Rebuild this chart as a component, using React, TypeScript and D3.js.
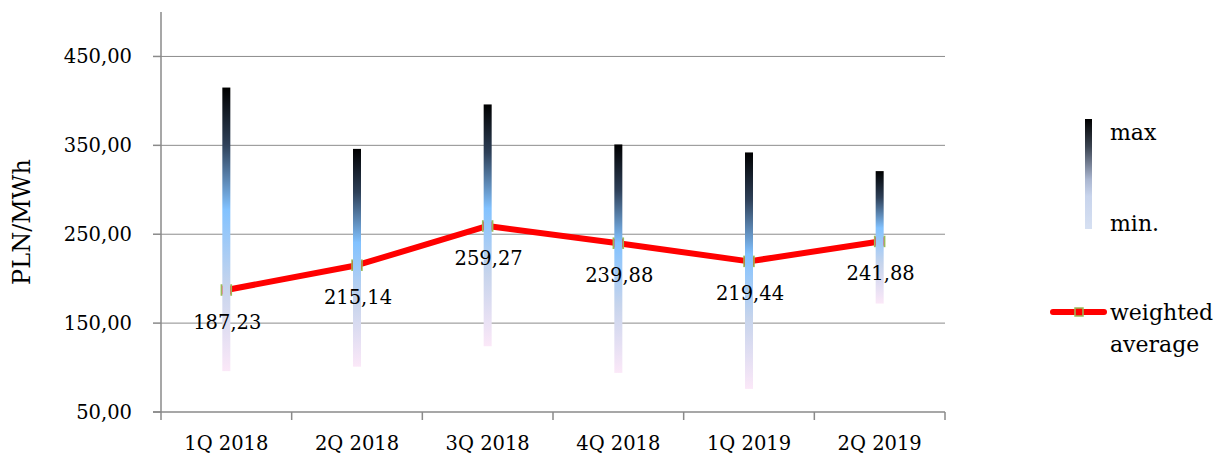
import React from 'react';
import * as d3 from 'd3';

const categories = ['1Q 2018', '2Q 2018', '3Q 2018', '4Q 2018', '1Q 2019', '2Q 2019'];
const maxValues = [415, 346, 396, 351, 342, 321];
const minValues = [96, 101, 124, 94, 76, 172];
const avgValues = [187.23, 215.14, 259.27, 239.88, 219.44, 241.88];
const yTicks = [50, 150, 250, 350, 450];

const W = 1217;
const H = 455;
const FONT = '"DejaVu Serif", serif';

const locale = d3.formatLocale({ decimal: ',', thousands: ' ', grouping: [3], currency: ['', ''] });
const fmt = locale.format('.2f');

export default function App() {
  const x = d3.scaleBand<string>().domain(categories).range([161, 945]).padding(0);
  const y = d3.scaleLinear().domain([50, 500]).range([412, 12]);
  const cx = (c: string) => (x(c) as number) + x.bandwidth() / 2;
  const line = d3
    .line<number>()
    .x((_, i) => cx(categories[i]))
    .y((d) => y(d));
  const gridColor = '#8c8c8c';
  const axisColor = '#8a8a8a';
  const barW = 8;

  return (
    <svg width={W} height={H} style={{ position: 'absolute', left: 0, top: 0, background: '#fff' }}>
      <defs>
        <linearGradient id="barGrad" x1="0" y1="0" x2="0" y2="1">
          <stop offset="0" stopColor="#000000" />
          <stop offset="0.2" stopColor="#2e4058" />
          <stop offset="0.43" stopColor="#82c2ff" />
          <stop offset="0.7" stopColor="#c6d4ec" />
          <stop offset="1" stopColor="#fbe8f8" />
        </linearGradient>
        <linearGradient id="legGrad" x1="0" y1="0" x2="0" y2="1">
          <stop offset="0" stopColor="#000000" />
          <stop offset="0.25" stopColor="#3a4350" />
          <stop offset="0.55" stopColor="#aab6d0" />
          <stop offset="0.7" stopColor="#c8d4ec" />
          <stop offset="1" stopColor="#d6e0f2" />
        </linearGradient>
      </defs>

      {/* gridlines */}
      {yTicks.slice(1).map((t) => (
        <line key={'g' + t} x1={161} x2={945} y1={y(t)} y2={y(t)} stroke={gridColor} strokeWidth={1} />
      ))}

      {/* y axis */}
      <line x1={161} x2={161} y1={12} y2={412} stroke={axisColor} strokeWidth={1.5} />
      {yTicks.map((t) => (
        <g key={'t' + t}>
          <line x1={153} x2={161} y1={y(t)} y2={y(t)} stroke={axisColor} strokeWidth={1.5} />
          <text x={132} y={y(t)} dy="0.35em" textAnchor="end" fontFamily={FONT} fontSize={19.5} fill="#000">
            {fmt(t)}
          </text>
        </g>
      ))}

      {/* x axis */}
      <line x1={153} x2={945} y1={412} y2={412} stroke={axisColor} strokeWidth={1.5} />
      {[...categories.map((c) => x(c) as number), 945].map((p, i) => (
        <line key={'xt' + i} x1={p} x2={p} y1={412} y2={420} stroke={axisColor} strokeWidth={1.5} />
      ))}
      {categories.map((c) => (
        <text key={'xl' + c} x={cx(c)} y={450} textAnchor="middle" fontFamily={FONT} fontSize={19.5} fill="#000">
          {c}
        </text>
      ))}

      {/* y title */}
      <text
        transform={`translate(30,222) rotate(-90)`}
        textAnchor="middle"
        fontFamily={FONT}
        fontSize={24}
        fill="#000"
      >
        PLN/MWh
      </text>

      {/* weighted average line */}
      <path d={line(avgValues) || ''} fill="none" stroke="#ff0000" strokeWidth={6} strokeLinejoin="round" />
      {avgValues.map((v, i) => (
        <rect
          key={'m' + i}
          x={cx(categories[i]) - 5}
          y={y(v) - 5}
          width={10}
          height={10}
          fill="#ff0000"
          stroke="#9bbb59"
          strokeWidth={1.5}
        />
      ))}

      {/* min-max bars */}
      {categories.map((c, i) => (
        <rect
          key={'b' + c}
          x={cx(c) - barW / 2}
          y={y(maxValues[i])}
          width={barW}
          height={y(minValues[i]) - y(maxValues[i])}
          fill="url(#barGrad)"
        />
      ))}

      {/* data labels */}
      {avgValues.map((v, i) => (
        <text
          key={'dl' + i}
          x={cx(categories[i]) + 1}
          y={y(v) + 32}
          dy="0.35em"
          textAnchor="middle"
          fontFamily={FONT}
          fontSize={19.5}
          fill="#000"
        >
          {fmt(v)}
        </text>
      ))}

      {/* legend */}
      <rect x={1085} y={119} width={7} height={110} fill="url(#legGrad)" />
      <text x={1110} y={140} fontFamily={FONT} fontSize={22} fill="#000">max</text>
      <text x={1110} y={231} fontFamily={FONT} fontSize={22} fill="#000">min.</text>
      <line x1={1053} x2={1104} y1={312} y2={312} stroke="#ff0000" strokeWidth={6} strokeLinecap="round" />
      <rect x={1075} y={308} width={8} height={8} fill="#ff0000" stroke="#9bbb59" strokeWidth={1.5} />
      <text x={1110} y={320} fontFamily={FONT} fontSize={22} fill="#000">weighted</text>
      <text x={1110} y={352} fontFamily={FONT} fontSize={22} fill="#000">average</text>
    </svg>
  );
}
